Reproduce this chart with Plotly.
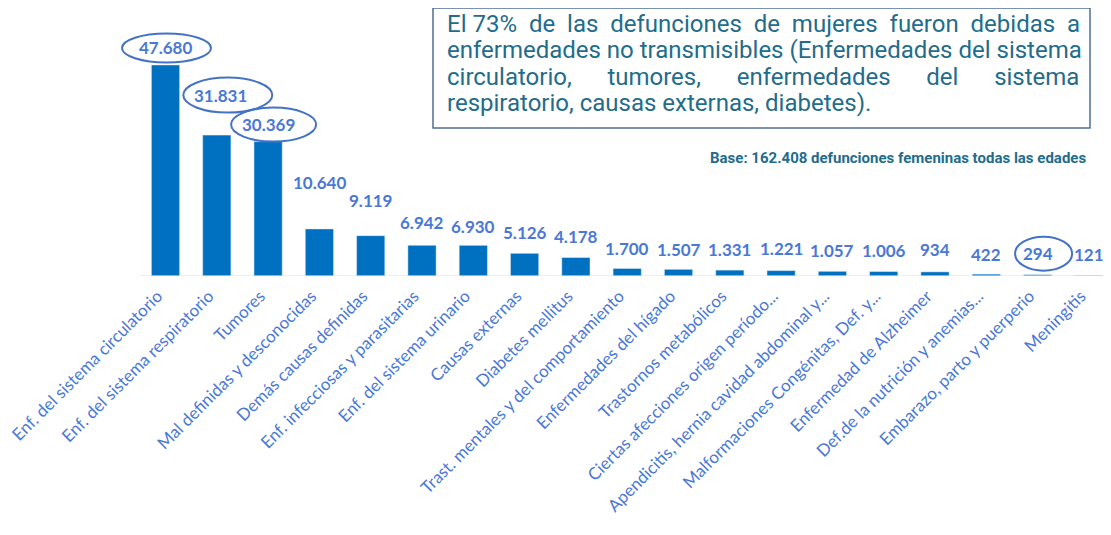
import plotly.graph_objects as go

causas = [
    "Enf. del sistema circulatorio",
    "Enf. del sistema respiratorio",
    "Tumores",
    "Mal definidas y desconocidas",
    "Demás causas definidas",
    "Enf. infecciosas y parasitarias",
    "Enf. del sistema urinario",
    "Causas externas",
    "Diabetes mellitus",
    "Trast. mentales y del comportamiento",
    "Enfermedades del hígado",
    "Trastornos metabólicos",
    "Ciertas afecciones origen período...",
    "Apendicitis, hernia cavidad abdominal y...",
    "Malformaciones Congénitas, Def. y...",
    "Enfermedad de Alzheimer",
    "Def.de la nutrición y anemias...",
    "Embarazo, parto y puerperio",
    "Meningitis",
]
defunciones = [47680, 31831, 30369, 10640, 9119, 6942, 6930, 5126, 4178,
               1700, 1507, 1331, 1221, 1057, 1006, 934, 422, 294, 121]
etiquetas = ["47.680", "31.831", "30.369", "10.640", "9.119", "6.942", "6.930",
             "5.126", "4.178", "1.700", "1.507", "1.331", "1.221", "1.057",
             "1.006", "934", "422", "294", "121"]
destacados = [0, 1, 2, 17]

nota = [
    "El 73% de las defunciones de mujeres fueron debidas a",
    "enfermedades no transmisibles (Enfermedades del sistema",
    "circulatorio, tumores, enfermedades del sistema",
    "respiratorio, causas externas, diabetes).",
]
base = "Base: 162.408 defunciones femeninas todas las edades"

# page has an 8px body margin, so the figure is a bit smaller than the window
OFF = 8
W, H = 1103, 527
L, R, T, B = 0, 0, 0, 259
azul = "#0070C0"
azul_txt = "#4A78D6"
verde = "#236C8A"

# label gap above bar top (px) and small x nudges, as in the original slide
gap = [17, 40, 17, 46, 35, 23, 19, 21, 21, 20, 20, 21, 22, 21, 21, 22, 20, 21, 21]
dx = {1: 4}
elipse = {0: (1, 89, 29), 1: (11, 89, 35), 2: (5.5, 85, 34), 17: (6, 57, 34)}
# non-breaking spaces per gap, to fake the justified text of the box
espacios = [[1, 2, 2, 2, 2, 2, 2, 2, 2], None, [6, 6, 6, 6], None]

paso = 51.3
x_ini = -(165.5 - OFF - L) / paso
x_fin = x_ini + (W - L - R) / paso


def px(x, y):
    return (x - OFF - L) / (W - L - R), (H - B - (y - OFF)) / (H - T - B)


def justificar(linea, huecos):
    pal = linea.split(" ")
    if huecos is None:
        return linea
    out = pal[0]
    for p, k in zip(pal[1:], huecos):
        out += "\u00a0" * k + p
    return out


n = len(causas)
fig = go.Figure(go.Bar(x=list(range(n)), y=defunciones,
                       marker_color=azul, width=0.55))

fig.add_shape(type="line", xref="x", yref="y", x0=-0.5, x1=x_fin, y0=0, y1=0,
              line=dict(color="#DDDDDD", width=1))

for i, t in enumerate(etiquetas):
    fig.add_annotation(x=i, y=defunciones[i], text=t, showarrow=False,
                       yanchor="middle", yshift=gap[i], xshift=dx.get(i, 0),
                       font=dict(family="Lato", size=17, color=azul_txt, weight="bold"))

for i in destacados:
    sx, w, h = elipse[i]
    fig.add_shape(type="circle", xref="x", yref="y", xsizemode="pixel", ysizemode="pixel",
                  xanchor=i, yanchor=defunciones[i],
                  x0=sx - w / 2, x1=sx + w / 2, y0=gap[i] - h / 2, y1=gap[i] + h / 2,
                  line=dict(color="#4472C4", width=2))

x0, y1 = px(433, 8)
x1, y0 = px(1090, 128)
fig.add_shape(type="rect", xref="paper", yref="paper", x0=x0, x1=x1, y0=y0, y1=y1,
              line=dict(color="#4F6F96", width=1.5), fillcolor="white")
for k, linea in enumerate(nota):
    xx, yy = px(445, 24 + k * 26.3)
    fig.add_annotation(xref="paper", yref="paper", x=xx, y=yy, xanchor="left", yanchor="middle",
                       text=justificar(linea, espacios[k]), showarrow=False,
                       font=dict(family="Roboto", size=24, color=verde))
xx, yy = px(1088, 158)
fig.add_annotation(xref="paper", yref="paper", x=xx, y=yy, xanchor="right", yanchor="middle",
                   text=base, showarrow=False,
                   font=dict(family="Roboto", size=15, color=verde, weight="bold"))

fig.update_layout(
    width=W, height=H, margin=dict(l=L, r=R, t=T, b=B),
    plot_bgcolor="white", paper_bgcolor="white", showlegend=False,
    xaxis=dict(tickmode="array", tickvals=list(range(n)), ticktext=causas,
               tickangle=-45, range=[x_ini, x_fin], automargin=False,
               showline=False, showgrid=False, zeroline=False, ticks="",
               ticklabelshift=-8, ticklabelstandoff=6, ticklabeloverflow="allow",
               tickfont=dict(family="Lato", size=17, color=azul_txt)),
    yaxis=dict(range=[0, max(defunciones) * 1.27], visible=False),
)
fig.write_html("out.html")
